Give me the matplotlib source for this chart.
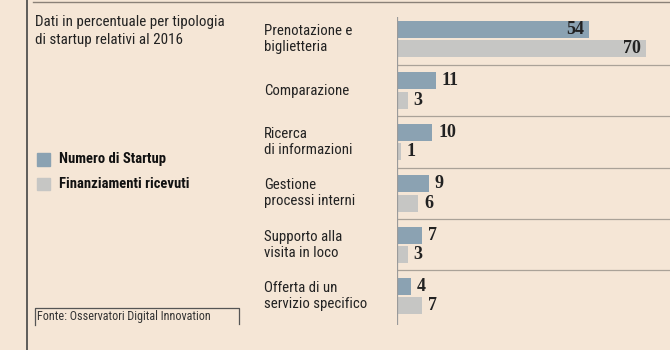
import numpy as np
import matplotlib
matplotlib.use("Agg")
import matplotlib.pyplot as plt
from matplotlib.lines import Line2D
from matplotlib.patches import Rectangle

# dati
categorie = ["Prenotazione e\nbiglietteria", "Comparazione", "Ricerca\ndi informazioni",
             "Gestione\nprocessi interni", "Supporto alla\nvisita in loco",
             "Offerta di un\nservizio specifico"]
numero_startup = [54, 11, 10, 9, 7, 4]
finanziamenti = [70, 3, 1, 6, 3, 7]
serie = ["Numero di Startup", "Finanziamenti ricevuti"]
sottotitolo = "Dati in percentuale per tipologia\ndi startup relativi al 2016"
fonte = "Fonte: Osservatori Digital Innovation"

sfondo = "#f5e6d6"
col_scuro = "#8ba2b2"
col_chiaro = "#c6c6c4"
sans = ["Roboto Condensed", "DejaVu Sans"]
serif = ["Liberation Serif", "DejaVu Serif"]
stretch = "condensed"

W, H = 670, 350
fig = plt.figure(figsize=(W / 100, H / 100), dpi=100, facecolor=sfondo)


def fx(px):
	return px / W


def fy(py):
	return 1 - py / H


# assi delle barre (in pixel: x 397..670, y 17..325)
ax = fig.add_axes([fx(397), fy(325), fx(670) - fx(397), (325 - 17) / H])
ax.set_facecolor(sfondo)
scala = 3.55
ax.set_xlim(0, (670 - 397) / scala)
ax.set_ylim(5.56, -0.43)

y = np.arange(len(categorie))
h = 0.33
off = 0.19
ax.barh(y - off, numero_startup, height=h, color=col_scuro)
ax.barh(y + off, finanziamenti, height=h, color=col_chiaro)

for i in range(len(categorie)):
	for v, yy in ((numero_startup[i], y[i] - off), (finanziamenti[i], y[i] + off)):
		if v > 40:
			ax.text(v - 1.3, yy, str(v), ha="right", va="center", family=serif,
					fontsize=13, fontweight="bold", color="#222222")
		else:
			ax.text(v + 1.6, yy, str(v), ha="left", va="center", family=serif,
					fontsize=13, fontweight="bold", color="#222222")
	if i < len(categorie) - 1:
		ax.axhline(i + 0.5, color="#aaa298", lw=0.9)
	fig.text(fx(264), fy(0) - (17 + (y[i] + 0.43) * 51.4) / H, categorie[i],
			 ha="left", va="center", family=sans, fontstretch=stretch, fontsize=10.7,
			 color="#222222", linespacing=1.15)

for s in ax.spines.values():
	s.set_visible(False)
ax.axvline(0, color="#9a9a9a", lw=0.9)
ax.set_xticks([])
ax.set_yticks([])

# cornice
fig.add_artist(Line2D([fx(27), fx(27)], [0, 1], color="#444444", lw=1.2, transform=fig.transFigure))
fig.add_artist(Line2D([fx(33), 1], [fy(1.5), fy(1.5)], color="#8a8178", lw=1.0, transform=fig.transFigure))

# testo a sinistra
fig.text(fx(35), fy(31), sottotitolo, ha="left", va="center", family=sans,
		 fontstretch=stretch, fontsize=10.8, color="#222222", linespacing=1.3)

# legenda
for k, (nome, col) in enumerate(zip(serie, [col_scuro, col_chiaro])):
	yc = 159.5 + k * 24.5
	fig.add_artist(Rectangle((fx(36.7), fy(yc + 6.3)), 13 / W, 12.5 / H, color=col,
							 transform=fig.transFigure))
	fig.text(fx(59), fy(yc), nome, ha="left", va="center", family=sans,
			 fontstretch=stretch, fontsize=10.5, fontweight="bold", color="#111111")

# fonte
fig.add_artist(Line2D([fx(34.7), fx(34.7), fx(238.7), fx(238.7)],
					  [fy(325), fy(307.7), fy(307.7), fy(324)],
					  color="#555555", lw=0.9, transform=fig.transFigure))
fig.text(fx(37), fy(316.5), fonte, ha="left", va="center", family=sans,
		 fontstretch=stretch, fontsize=8.7, color="#333333")

fig.savefig("out.png", dpi=100, facecolor=sfondo)
